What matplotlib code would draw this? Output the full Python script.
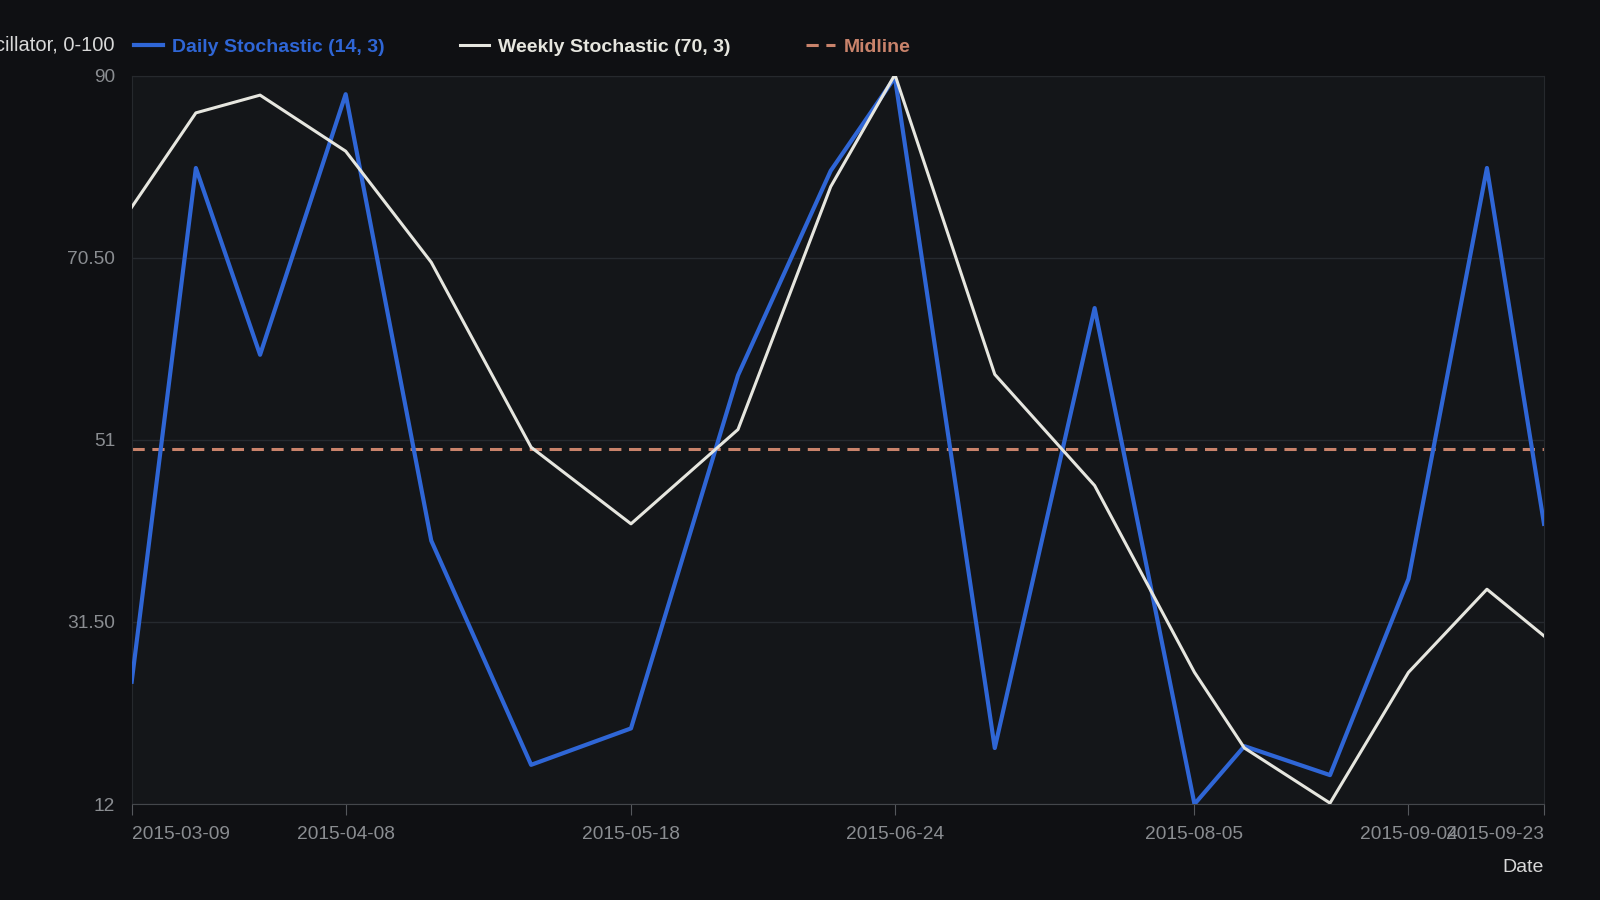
import matplotlib
matplotlib.use('Agg')
import matplotlib.pyplot as plt
import matplotlib.dates as mdates
import pandas as pd

dates = ['2015-03-09', '2015-03-18', '2015-03-27', '2015-04-08', '2015-04-20', '2015-05-04',
         '2015-05-18', '2015-06-02', '2015-06-15', '2015-06-24', '2015-07-08', '2015-07-22',
         '2015-08-05', '2015-08-12', '2015-08-24', '2015-09-04', '2015-09-15', '2015-09-23']
daily = [25.1, 80.1, 60.1, 88.0, 40.2, 16.2, 20.1, 57.9, 79.8, 89.8, 18.0, 65.1,
         12.0, 18.2, 15.1, 36.1, 80.1, 42.0]
weekly = [75.9, 86.0, 87.9, 81.9, 70.0, 50.2, 42.0, 52.1, 78.1, 90.1, 58.0, 46.1,
          26.1, 18.0, 12.1, 26.1, 35.0, 30.0]
midline = 50
tick_dates = ['2015-03-09', '2015-04-08', '2015-05-18', '2015-06-24', '2015-08-05', '2015-09-04', '2015-09-23']
yticks = [12, 31.5, 51, 70.5, 90]
ytick_labels = ['12', '31.50', '51', '70.50', '90']

x = pd.to_datetime(dates)
plt.rcParams['font.family'] = ['Liberation Sans', 'DejaVu Sans']

bg = '#0f1013'
fig = plt.figure(figsize=(16, 9), dpi=100, facecolor=bg)
ax = fig.add_axes([0.0823, 0.1066, 0.8827, 0.8095])
ax.set_facecolor('#141619')

ax.plot(x, daily, color='#2f66d6', lw=3, label='Daily Stochastic (14, 3)', zorder=3)
ax.plot(x, weekly, color='#e6e6df', lw=2.2, label='Weekly Stochastic (70, 3)', zorder=4)
ax.axhline(midline, color='#c9836b', lw=2.2, ls=(0, (4, 2.5)), label='Midline', zorder=2)

ax.set_xlim(x[0], x[-1])
ax.set_ylim(12, 90)
ax.set_yticks(yticks)
ax.set_yticklabels(ytick_labels)
ax.set_xticks(pd.to_datetime(tick_dates))
ax.xaxis.set_major_formatter(mdates.DateFormatter('%Y-%m-%d'))
ax.grid(axis='y', color='#262a2f', lw=1)
ax.tick_params(axis='y', length=0, colors='#8a8d91', labelsize=13.8, pad=12)
ax.tick_params(axis='x', length=8, color='#55585c', colors='#8a8d91', labelsize=13.8, pad=8)
xt = ax.get_xticklabels()
xt[0].set_ha('left')
xt[-1].set_ha('right')
for s in ['top', 'right', 'left']:
    ax.spines[s].set_color('#26292d')
ax.spines['bottom'].set_color('#44474b')

fig.text(0.0714, 0.950, 'Oscillator, 0-100', color='#d8d8d8', fontsize=14.5, ha='right', va='center')
fig.text(0.965, 0.036, 'Date', color='#d8d8d8', fontsize=14, ha='right', va='center')

leg = ax.legend(loc='lower left', bbox_to_anchor=(-0.011, 1.003), ncol=3, frameon=False,
                handlelength=1.5, handletextpad=0.45, columnspacing=3.9,
                prop={'weight': 'bold', 'size': 14}, labelcolor='linecolor')

fig.savefig('out.png', dpi=100, facecolor=bg)
